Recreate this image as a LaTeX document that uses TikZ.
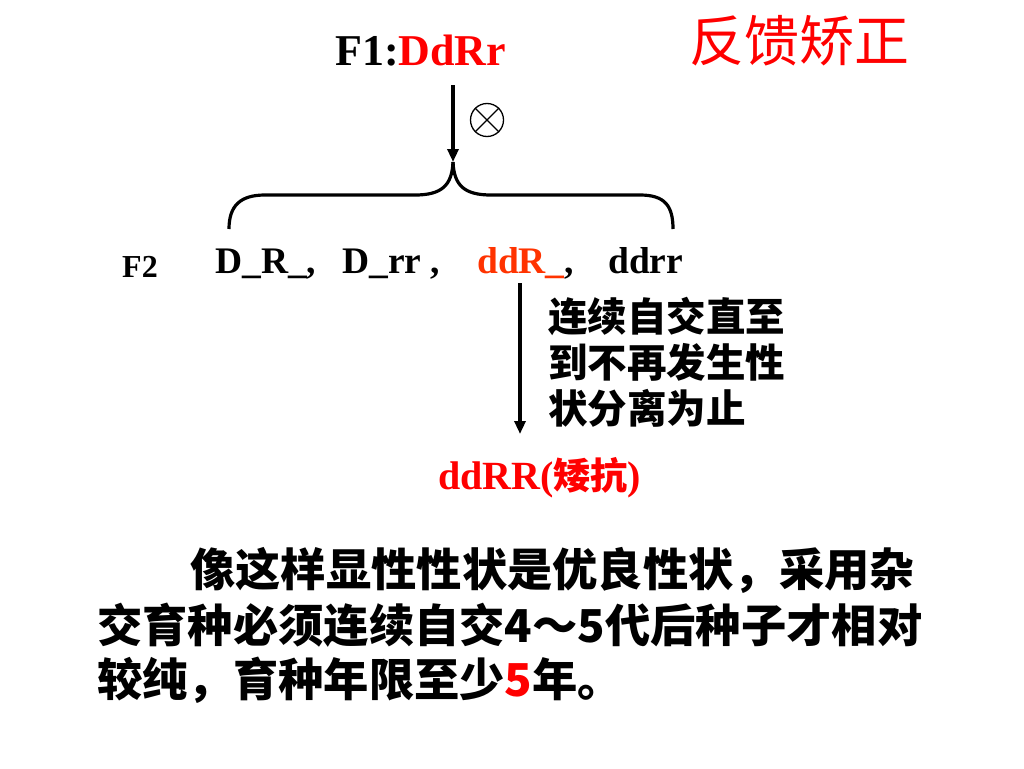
\documentclass[tikz,border=0pt]{standalone}
\usepackage{fontspec}
\usetikzlibrary{arrows.meta}
\setmainfont{Liberation Serif}
\newfontfamily\tnr{Liberation Serif}
\newfontfamily\cjk{Noto Sans CJK SC}
\definecolor{pred}{HTML}{FF0000}
\definecolor{ored}{HTML}{FF3300}
\tikzset{
  lat/.style={inner sep=0pt, font=\tnr\bfseries\fontsize{44}{48}\selectfont},
  geno/.style={inner sep=0pt, anchor=base west, font=\tnr\bfseries\fontsize{37.5}{42}\selectfont},
  side/.style={inner sep=0pt, anchor=west, font=\cjk\bfseries\fontsize{39.5}{44}\selectfont},
  para/.style={inner sep=0pt, anchor=west, font=\cjk\bfseries\fontsize{45.3}{50}\selectfont},
  conn/.style={line width=3.2pt, -{Triangle[length=13pt,width=11pt]}},
  bracestyle/.style={line width=3.2pt, line join=round}
}
\begin{document}
\begin{tikzpicture}[x=1pt,y=-1pt]
\useasboundingbox[fill=white] (0,0) rectangle (1024,768);
% title
\node[inner sep=0pt, text=pred, font=\cjk\fontsize{55}{60}\selectfont] (title) at (799,41) {反馈矫正};
% F1
\node[lat, anchor=base west] (f1) at (335,66) {F1:\textcolor{pred}{DdRr}};
% self-cross symbol
\node[draw, circle, line width=1.3pt, minimum size=33pt, inner sep=0pt] (ot) at (487,120) {};
\draw[line width=1.3pt] (ot.north west) -- (ot.south east) (ot.north east) -- (ot.south west);
% arrow 1
\coordinate (a1s) at (453,85);
\coordinate (tip) at (453,162);
\draw[conn] (a1s) -- (tip);
% brace
\draw[bracestyle] (229,229) .. controls (229,206) and (240,195) .. (265,195) -- (415,195) .. controls (441,195) and (452,186) .. (tip);
\draw[bracestyle] (tip) .. controls (454,186) and (465,195) .. (491,195) -- (640,195) .. controls (665,195) and (673,206) .. (673,229);
% F2 line
\node[inner sep=0pt, anchor=base west, font=\tnr\bfseries\fontsize{32}{36}\selectfont] (f2) at (122,277) {F2};
\node[geno] (g1) at (215,273) {D\_R\_,};
\node[geno] (g2) at (342,273) {D\_rr ,};
\node[geno, text=ored] (g3) at (477,273) {ddR\_\textcolor{black}{,}};
\node[geno] (g4) at (608,273) {ddrr};
% arrow 2
\coordinate (a2s) at (520,283);
\coordinate (a2e) at (520,434);
\draw[conn] (a2s) -- (a2e);
\node[side] (s1) at (548,316) {连续自交直至};
\node[side] (s2) at (548,362) {到不再发生性};
\node[side] (s3) at (548,408) {状分离为止};
% result
\node[inner sep=0pt, anchor=base west, text=pred] (res) at (438,489) {{\tnr\bfseries\fontsize{40}{44}\selectfont ddRR(}{\cjk\bfseries\fontsize{37}{42}\selectfont 矮抗}{\tnr\bfseries\fontsize{40}{44}\selectfont )}};
% paragraph
\node[para] (p1) at (190,570) {像这样显性性状是优良性状，采用杂};
\node[para] (p2) at (97,625) {交育种必须连续自交4～5代后种子才相对};
\node[para] (p3) at (97,680) {较纯，育种年限至少\textcolor{pred}{5}年。};
\end{tikzpicture}
\end{document}
